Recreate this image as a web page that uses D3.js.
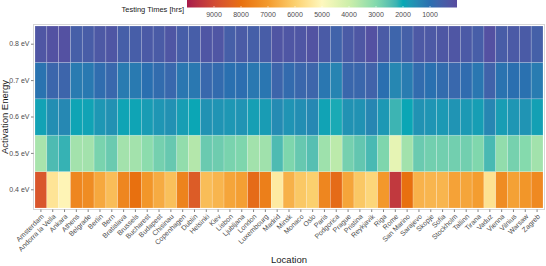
<!DOCTYPE html>
<meta charset="utf-8">
<style>
  body { margin: 0; background: #fff; }
  svg { display: block; font-family: "Liberation Sans", Arial, sans-serif; }
  .axis text { fill: #4d4d4d; font-size: 7px; }
  .axis line { stroke: #333; stroke-width: 0.6; }
  .axis path { display: none; }
  .title { fill: #1a1a1a; font-size: 9.5px; }
</style>
<svg width="546" height="266"></svg>
<script src="https://cdn.jsdelivr.net/npm/d3@7/dist/d3.min.js"></script>
<script>

var locations = ["Amsterdam", "Andorra la Vella", "Ankara", "Athens", "Belgrade", "Berlin", "Bern",
  "Bratislava", "Brussels", "Bucharest", "Budapest", "Chisinau", "Copenhagen", "Dublin", "Helsinki",
  "Kiev", "Lisbon", "Ljubljana", "London", "Luxembourg", "Madrid", "Minsk", "Monaco", "Oslo", "Paris",
  "Podgorica", "Prague", "Pristina", "Reykjavik", "Riga", "Rome", "San Marino", "Sarajevo", "Skopje",
  "Sofia", "Stockholm", "Tallinn", "Tirana", "Vaduz", "Vienna", "Vilnius", "Warsaw", "Zagreb"];

var energies = ["0.4 eV", "0.5 eV", "0.6 eV", "0.7 eV", "0.8 eV"];

// testing times [hrs] per location, one array per activation energy
var hrs04 = [8700, 5500, 5100, 7480, 7350, 6750, 6350, 7480, 8000, 7100, 6680, 6300, 7550, 8550, 6350,
  6500, 6800, 6900, 8150, 7650, 5350, 6580, 6150, 6000, 7480, 8150, 6800, 6150, 5850, 7050, 9400, 8000,
  6550, 6500, 6500, 6850, 6800, 6950, 5550, 7350, 6880, 7100, 7420];
var hrs05 = [3480, 2400, 2200, 3420, 3420, 2880, 2700, 3420, 3420, 3120, 2830, 2660, 3200, 3650, 2700,
  2740, 2880, 2950, 3400, 3380, 2400, 2950, 2660, 2480, 3350, 3750, 2830, 2620, 2350, 2950, 4500, 3400,
  2700, 2800, 2800, 2800, 2800, 2970, 2350, 3200, 2850, 3030, 3400];
var hrs06 = [1890, 1550, 1450, 1930, 1910, 1700, 1600, 1930, 1930, 1800, 1690, 1600, 1830, 1960, 1620,
  1650, 1700, 1650, 1850, 1800, 1500, 1650, 1550, 1450, 1910, 2050, 1620, 1620, 1400, 1720, 2250, 1960,
  1620, 1670, 1740, 1650, 1740, 1830, 1400, 1810, 1690, 1650, 1870];
var hrs07 = [1080, 750, 720, 1220, 1180, 930, 800, 1220, 1200, 1000, 900, 800, 1150, 1160, 800,
  880, 1020, 980, 1160, 1120, 720, 890, 770, 730, 1150, 1380, 770, 780, 650, 1000, 1420, 1230,
  900, 1020, 900, 800, 920, 1150, 660, 1070, 1000, 1030, 1230];
var hrs08 = [300, 180, 150, 530, 480, 360, 300, 530, 510, 400, 430, 300, 510, 510, 300,
  280, 530, 430, 550, 490, 260, 300, 300, 200, 440, 640, 430, 320, 150, 440, 700, 560,
  360, 360, 320, 300, 400, 510, 150, 480, 400, 430, 560];

var legendTicks = [9000, 8000, 7000, 6000, 5000, 4000, 3000, 2000, 1000];

// palette
var paletteValues = [0, 1000, 2000, 3000, 4000, 5000, 6000, 7000, 8000, 9000, 10000];
var paletteColours = ["#584b9f", "#2a6fb0", "#05a8b5", "#82d9ad", "#cdefaa", "#fef8be",
  "#fbd06e", "#f39a2c", "#e8700f", "#d24a33", "#a71b4b"];

var byEnergy = [hrs04, hrs05, hrs06, hrs07, hrs08];
var cells = [];
energies.forEach(function(e, i) {
  locations.forEach(function(loc, j) {
    cells.push({energy: e, location: loc, hrs: byEnergy[i][j]});
  });
});

var svg = d3.select("svg");

var x = d3.scaleBand().domain(locations).range([35, 543]);
var y = d3.scaleBand().domain(energies.slice().reverse()).range([26, 208]);

var colour = d3.scaleLinear()
  .domain(paletteValues)
  .range(paletteColours)
  .interpolate(d3.interpolateLab);

// panel border
svg.append("rect")
  .attr("x", 33.5).attr("y", 24.5)
  .attr("width", 511).attr("height", 185)
  .attr("fill", "none")
  .attr("stroke", "#d6d6d6");

// tiles
svg.append("g")
  .selectAll("rect")
  .data(cells)
  .enter()
  .append("rect")
  .attr("x", function(d) { return x(d.location); })
  .attr("y", function(d) { return y(d.energy); })
  .attr("width", x.bandwidth())
  .attr("height", y.bandwidth())
  .attr("fill", function(d) { return colour(d.hrs); })
  .attr("stroke", "rgba(255,255,255,0.3)")
  .attr("stroke-width", 0.6);

// y axis
svg.append("g")
  .attr("class", "axis")
  .attr("transform", "translate(33.5,0)")
  .call(d3.axisLeft(y).tickSize(2.5).tickPadding(1.5));

// x axis
var xAxis = svg.append("g")
  .attr("class", "axis")
  .attr("transform", "translate(0,209.5)")
  .call(d3.axisBottom(x).tickSize(2.5));

xAxis.selectAll("text")
  .attr("x", 0)
  .attr("y", 0)
  .attr("dy", "0.7em")
  .attr("text-anchor", "end")
  .attr("transform", "translate(0,4) rotate(-45)");

// axis titles
svg.append("text")
  .attr("class", "title")
  .attr("transform", "translate(7.5,117) rotate(-90)")
  .attr("text-anchor", "middle")
  .text("Activation Energy");

svg.append("text")
  .attr("class", "title")
  .attr("x", 289)
  .attr("y", 263)
  .attr("text-anchor", "middle")
  .text("Location");

// legend
var lx = d3.scaleLinear().domain([10000, 0]).range([187, 457]);

var grad = svg.append("defs").append("linearGradient")
  .attr("id", "legend-grad")
  .attr("x1", "0%").attr("x2", "100%")
  .attr("y1", "0%").attr("y2", "0%");

d3.range(10000, -1, -250).forEach(function(v) {
  grad.append("stop")
    .attr("offset", ((lx(v) - 187) / 270 * 100) + "%")
    .attr("stop-color", colour(v));
});

svg.append("rect")
  .attr("x", 187).attr("y", 0)
  .attr("width", 270).attr("height", 7.5)
  .attr("fill", "url(#legend-grad)");

var lg = svg.append("g").attr("class", "axis");

lg.selectAll("line.tk")
  .data(legendTicks)
  .enter()
  .append("line")
  .attr("class", "tk")
  .attr("x1", function(d) { return lx(d); })
  .attr("x2", function(d) { return lx(d); })
  .attr("y1", 6)
  .attr("y2", 7.5)
  .style("stroke", "#fff");

lg.selectAll("text")
  .data(legendTicks)
  .enter()
  .append("text")
  .attr("x", function(d) { return lx(d); })
  .attr("y", 16.5)
  .attr("text-anchor", "middle")
  .text(function(d) { return d; });

svg.append("text")
  .attr("x", 184)
  .attr("y", 12)
  .attr("text-anchor", "end")
  .style("font-size", "7.5px")
  .style("fill", "#1a1a1a")
  .text("Testing Times [hrs]");

</script>
